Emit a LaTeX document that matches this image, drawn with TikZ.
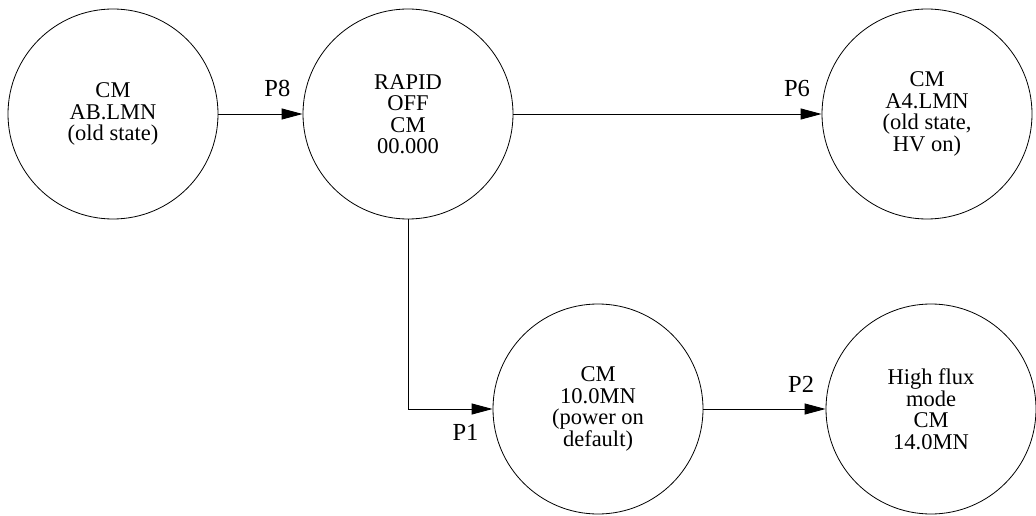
\documentclass[tikz,border=0pt]{standalone}
\usepackage{fontspec}
\setmainfont{Liberation Serif}
\usetikzlibrary{arrows.meta, positioning}

\begin{document}
\begin{tikzpicture}[x=1pt, y=-1pt,
    state/.style={draw, circle, minimum size=210pt, inner sep=0pt, align=center,
        line width=0.8pt, font=\fontsize{22.5}{21.5}\selectfont},
    flow/.style={-{Triangle[length=21pt,width=11pt]}, line width=0.9pt},
    plabel/.style={inner sep=0pt, font=\fontsize{24.5}{26}\selectfont}]
    % Fix the canvas
    \useasboundingbox (0,0) rectangle (1036,516);

    % Place the states
    \node[state] (old) at (113,114) {CM\\AB.LMN\\(old state)};
    \node[state] (rapid) at (408,114) {RAPID\\OFF\\CM\\00.000};
    \node[state] (hvon) at (927,114) {CM\\A4.LMN\\(old state,\\HV on)};
    \node[state] (default) at (598,409) {CM\\10.0MN\\(power on\\default)};
    \node[state] (flux) at (931,409) {High flux\\mode\\CM\\14.0MN};

    % Draw the transitions with their labels
    \draw[flow] (old) -- node[plabel, pos=0.7, above=17pt] {P8} (rapid);
    \draw[flow] (rapid) -- node[plabel, pos=0.92, above=17pt] {P6} (hvon);
    \draw[flow] (rapid.south) |- node[plabel, pos=0.84, below=15pt] {P1} (default);
    \draw[flow] (default) -- node[plabel, pos=0.8, above=16pt] {P2} (flux);
\end{tikzpicture}
\end{document}
